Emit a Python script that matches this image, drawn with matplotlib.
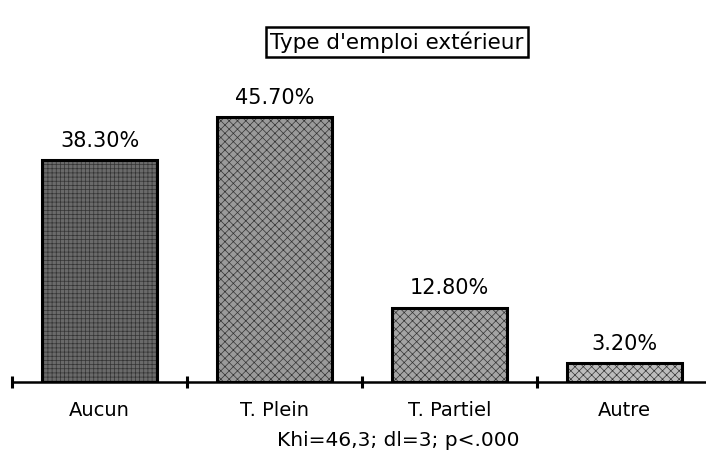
import numpy as np
import matplotlib.pyplot as plt

categories = ['Aucun', 'T. Plein', 'T. Partiel', 'Autre']
values = [38.3, 45.7, 12.8, 3.2]
labels = ['38.30%', '45.70%', '12.80%', '3.20%']
fills = ['#6a6a6a', '#9a9a9a', '#a4a4a4', '#bcbcbc']
hatches = ['++++', 'xxxx', 'xxxx', 'xxxx']

plt.rcParams['hatch.linewidth'] = 0.5

fig = plt.figure(figsize=(7.06, 4.63), dpi=100)
ax = fig.add_axes([12 / 706, 81 / 463, 694 / 706, 322 / 463])

x = np.arange(len(categories))
bars = ax.bar(x, values, width=0.66, color=fills, linewidth=0.0, zorder=2)
for b, h in zip(bars, hatches):
    b.set_hatch(h)
    b.set_edgecolor('#333333')
# outline on top
ax.bar(x, values, width=0.66, facecolor='none', edgecolor='black',
       linewidth=2.2, zorder=3)

for xi, v, lab in zip(x, values, labels):
    ax.text(xi, v + 1.6, lab, ha='center', va='bottom', fontsize=15)

ax.set_xlim(-0.5, 3.5 - 6 / 175)
ax.set_ylim(0, 322 / 5.8)

for s in ['top', 'right', 'left']:
    ax.spines[s].set_visible(False)
ax.spines['bottom'].set_linewidth(1.8)
ax.set_yticks([])
ax.set_xticks(np.arange(-0.5, 3.0, 1.0))
ax.set_xticklabels([])
ax.tick_params(axis='x', direction='inout', length=9, width=2.2)

for xi, c in zip(x, categories):
    ax.text(xi, -3.2, c, ha='center', va='top', fontsize=14)

fig.text(398 / 706, 1 - 440 / 463, 'Khi=46,3; dl=3; p<.000', ha='center',
         va='center', fontsize=14.5)
fig.text(397 / 706, 1 - 42 / 463, "Type d'emploi extérieur", ha='center',
         va='center', fontsize=15.5,
         bbox=dict(boxstyle='square,pad=0.2', facecolor='white',
                   edgecolor='black', linewidth=1.8))

fig.savefig('out.png', dpi=100)
